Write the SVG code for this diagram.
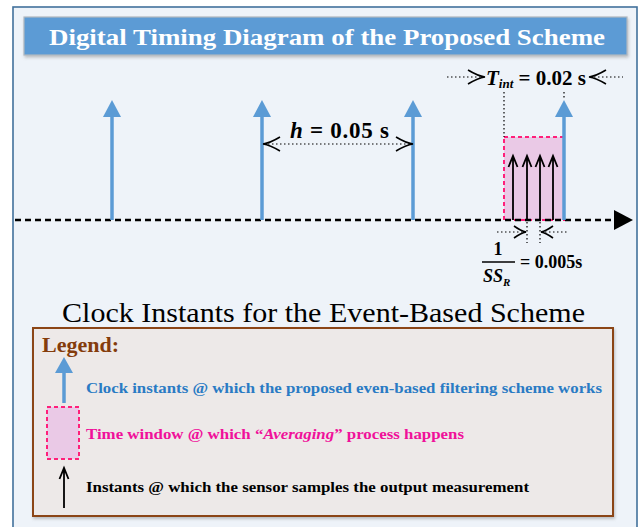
<svg xmlns="http://www.w3.org/2000/svg" width="641" height="527" viewBox="0 0 641 527">
<defs>
<style>
.serif{font-family:"Liberation Serif","Times New Roman",serif;}
.b{font-weight:bold;}
.clk{stroke:#5b9bd5;stroke-width:3.5;fill:none;}
.clkhead{fill:#5b9bd5;}
.smp{stroke:#000;stroke-width:1.8;fill:none;}
.dot{stroke:#000;stroke-width:1.2;stroke-dasharray:1.5 2.5;fill:none;}
.ah{stroke:#000;stroke-width:1.6;fill:none;}
.win{fill:#eac9e6;stroke:#ff1f7a;stroke-width:2;stroke-dasharray:4 3;}
</style>
<filter id="sh" x="-5%" y="-20%" width="110%" height="140%">
<feDropShadow dx="1" dy="2" stdDeviation="1.5" flood-color="#7f7f7f" flood-opacity="0.45"/>
</filter>
</defs>

<g id="frame">
<rect x="13" y="7" width="624" height="530" fill="#eef3f9" stroke="#41719c" stroke-width="1.6"/>
</g>

<g id="title">
<rect x="24" y="17" width="603" height="38" fill="#5b9bd5" stroke="#b0b8c0" stroke-width="1.2" filter="url(#sh)"/>
<text class="serif b" x="327" y="45" font-size="24" fill="#ffffff" text-anchor="middle" textLength="556" lengthAdjust="spacingAndGlyphs">Digital Timing Diagram of the Proposed Scheme</text>
</g>

<g id="window">
<rect class="win" x="504" y="137" width="60" height="83"/>
</g>

<g id="connectors">
<!-- time axis -->
<line x1="15" y1="220" x2="616" y2="220" stroke="#000" stroke-width="2.6" stroke-dasharray="6 4"/>
<polygon points="614,210 633,220 614,230" fill="#000"/>
<!-- clock instants -->
<line class="clk" x1="112" y1="220" x2="112" y2="114"/>
<polygon class="clkhead" points="103,117 112,100 121,117"/>
<line class="clk" x1="262" y1="220" x2="262" y2="114"/>
<polygon class="clkhead" points="253,117 262,100 271,117"/>
<line class="clk" x1="413" y1="220" x2="413" y2="114"/>
<polygon class="clkhead" points="404,117 413,100 422,117"/>
<line class="clk" x1="564" y1="220" x2="564" y2="114"/>
<polygon class="clkhead" points="555,117 564,100 573,117"/>
<!-- sensor samples -->
<path class="smp" d="M513,220 V156 M508.5,167 L513,156 L517.5,167"/>
<path class="smp" d="M527,220 V156 M522.5,167 L527,156 L531.5,167"/>
<path class="smp" d="M540,220 V156 M535.5,167 L540,156 L544.5,167"/>
<path class="smp" d="M553,220 V156 M548.5,167 L553,156 L557.5,167"/>
<!-- h dimension -->
<line class="dot" x1="264" y1="144" x2="411" y2="144"/>
<path class="ah" d="M280,137 Q270,143 263,144 Q270,145 280,151"/>
<path class="ah" d="M396,137 Q406,143 413,144 Q406,145 396,151"/>
<!-- Tint dimension -->
<line class="dot" x1="504" y1="92" x2="504" y2="137"/>
<line class="dot" x1="564" y1="92" x2="564" y2="100"/>
<line class="dot" x1="447" y1="77" x2="484" y2="77"/>
<path class="ah" d="M468,70 Q478,76 485,77 Q478,78 468,84"/>
<line class="dot" x1="590" y1="77" x2="623" y2="77"/>
<path class="ah" d="M606,70 Q596,76 589,77 Q596,78 606,84"/>
<!-- sampling period dimension -->
<line class="dot" x1="527" y1="222" x2="527" y2="243"/>
<line class="dot" x1="540" y1="222" x2="540" y2="243"/>
<line class="dot" x1="497" y1="232" x2="526" y2="232"/>
<path class="ah" d="M514,226 Q521,231 526,232 Q521,233 514,238"/>
<line class="dot" x1="541" y1="232" x2="568" y2="232"/>
<path class="ah" d="M553,226 Q546,231 541,232 Q546,233 553,238"/>
</g>

<g id="labels">
<text class="serif b" x="290" y="138" font-size="23" fill="#000" textLength="99" lengthAdjust="spacing"><tspan font-style="italic">h</tspan> = 0.05 s</text>
<text class="serif b" x="486" y="85" font-size="21" fill="#000"><tspan font-style="italic">T</tspan><tspan font-style="italic" font-size="13" dy="3">int</tspan><tspan dy="-3"> = 0.02 s</tspan></text>
<text class="serif b" x="498" y="255" font-size="18" fill="#000" text-anchor="middle">1</text>
<line x1="482" y1="262" x2="515" y2="262" stroke="#000" stroke-width="1.3"/>
<text class="serif b" x="483" y="282" font-size="18" fill="#000" font-style="italic">SS<tspan font-size="11" dy="4">R</tspan></text>
<text class="serif b" x="520" y="268" font-size="18" fill="#000">= 0.005s</text>
<text class="serif" x="323.5" y="322" font-size="28" fill="#000" text-anchor="middle" textLength="523" lengthAdjust="spacingAndGlyphs">Clock Instants for the Event-Based Scheme</text>
</g>

<g id="legend">
<rect x="33" y="328" width="580" height="188" fill="#ede9e8" stroke="#8b4513" stroke-width="2" filter="url(#sh)"/>
<text class="serif b" x="42" y="352" font-size="22" fill="#843c0c">Legend:</text>
<g id="legend-clock">
<line class="clk" x1="64" y1="403" x2="64" y2="370"/>
<polygon class="clkhead" points="55,373 64,357 73,373"/>
<text class="serif b" x="86" y="393" font-size="15" fill="#2a7bc4" textLength="516" lengthAdjust="spacingAndGlyphs">Clock instants @ which the proposed even-based filtering scheme works</text>
</g>
<g id="legend-window">
<rect class="win" x="47" y="407" width="32" height="52"/>
<text class="serif b" x="86" y="439" font-size="15" fill="#f0109a" textLength="378" lengthAdjust="spacingAndGlyphs">Time window @ which “<tspan font-style="italic">Averaging</tspan>” process happens</text>
</g>
<g id="legend-sample">
<path class="smp" d="M64,508 V468 M59.5,479 L64,468 L68.5,479"/>
<text class="serif b" x="86" y="492" font-size="15" fill="#000" textLength="443" lengthAdjust="spacingAndGlyphs">Instants @ which the sensor samples the output measurement</text>
</g>
</g>
</svg>
